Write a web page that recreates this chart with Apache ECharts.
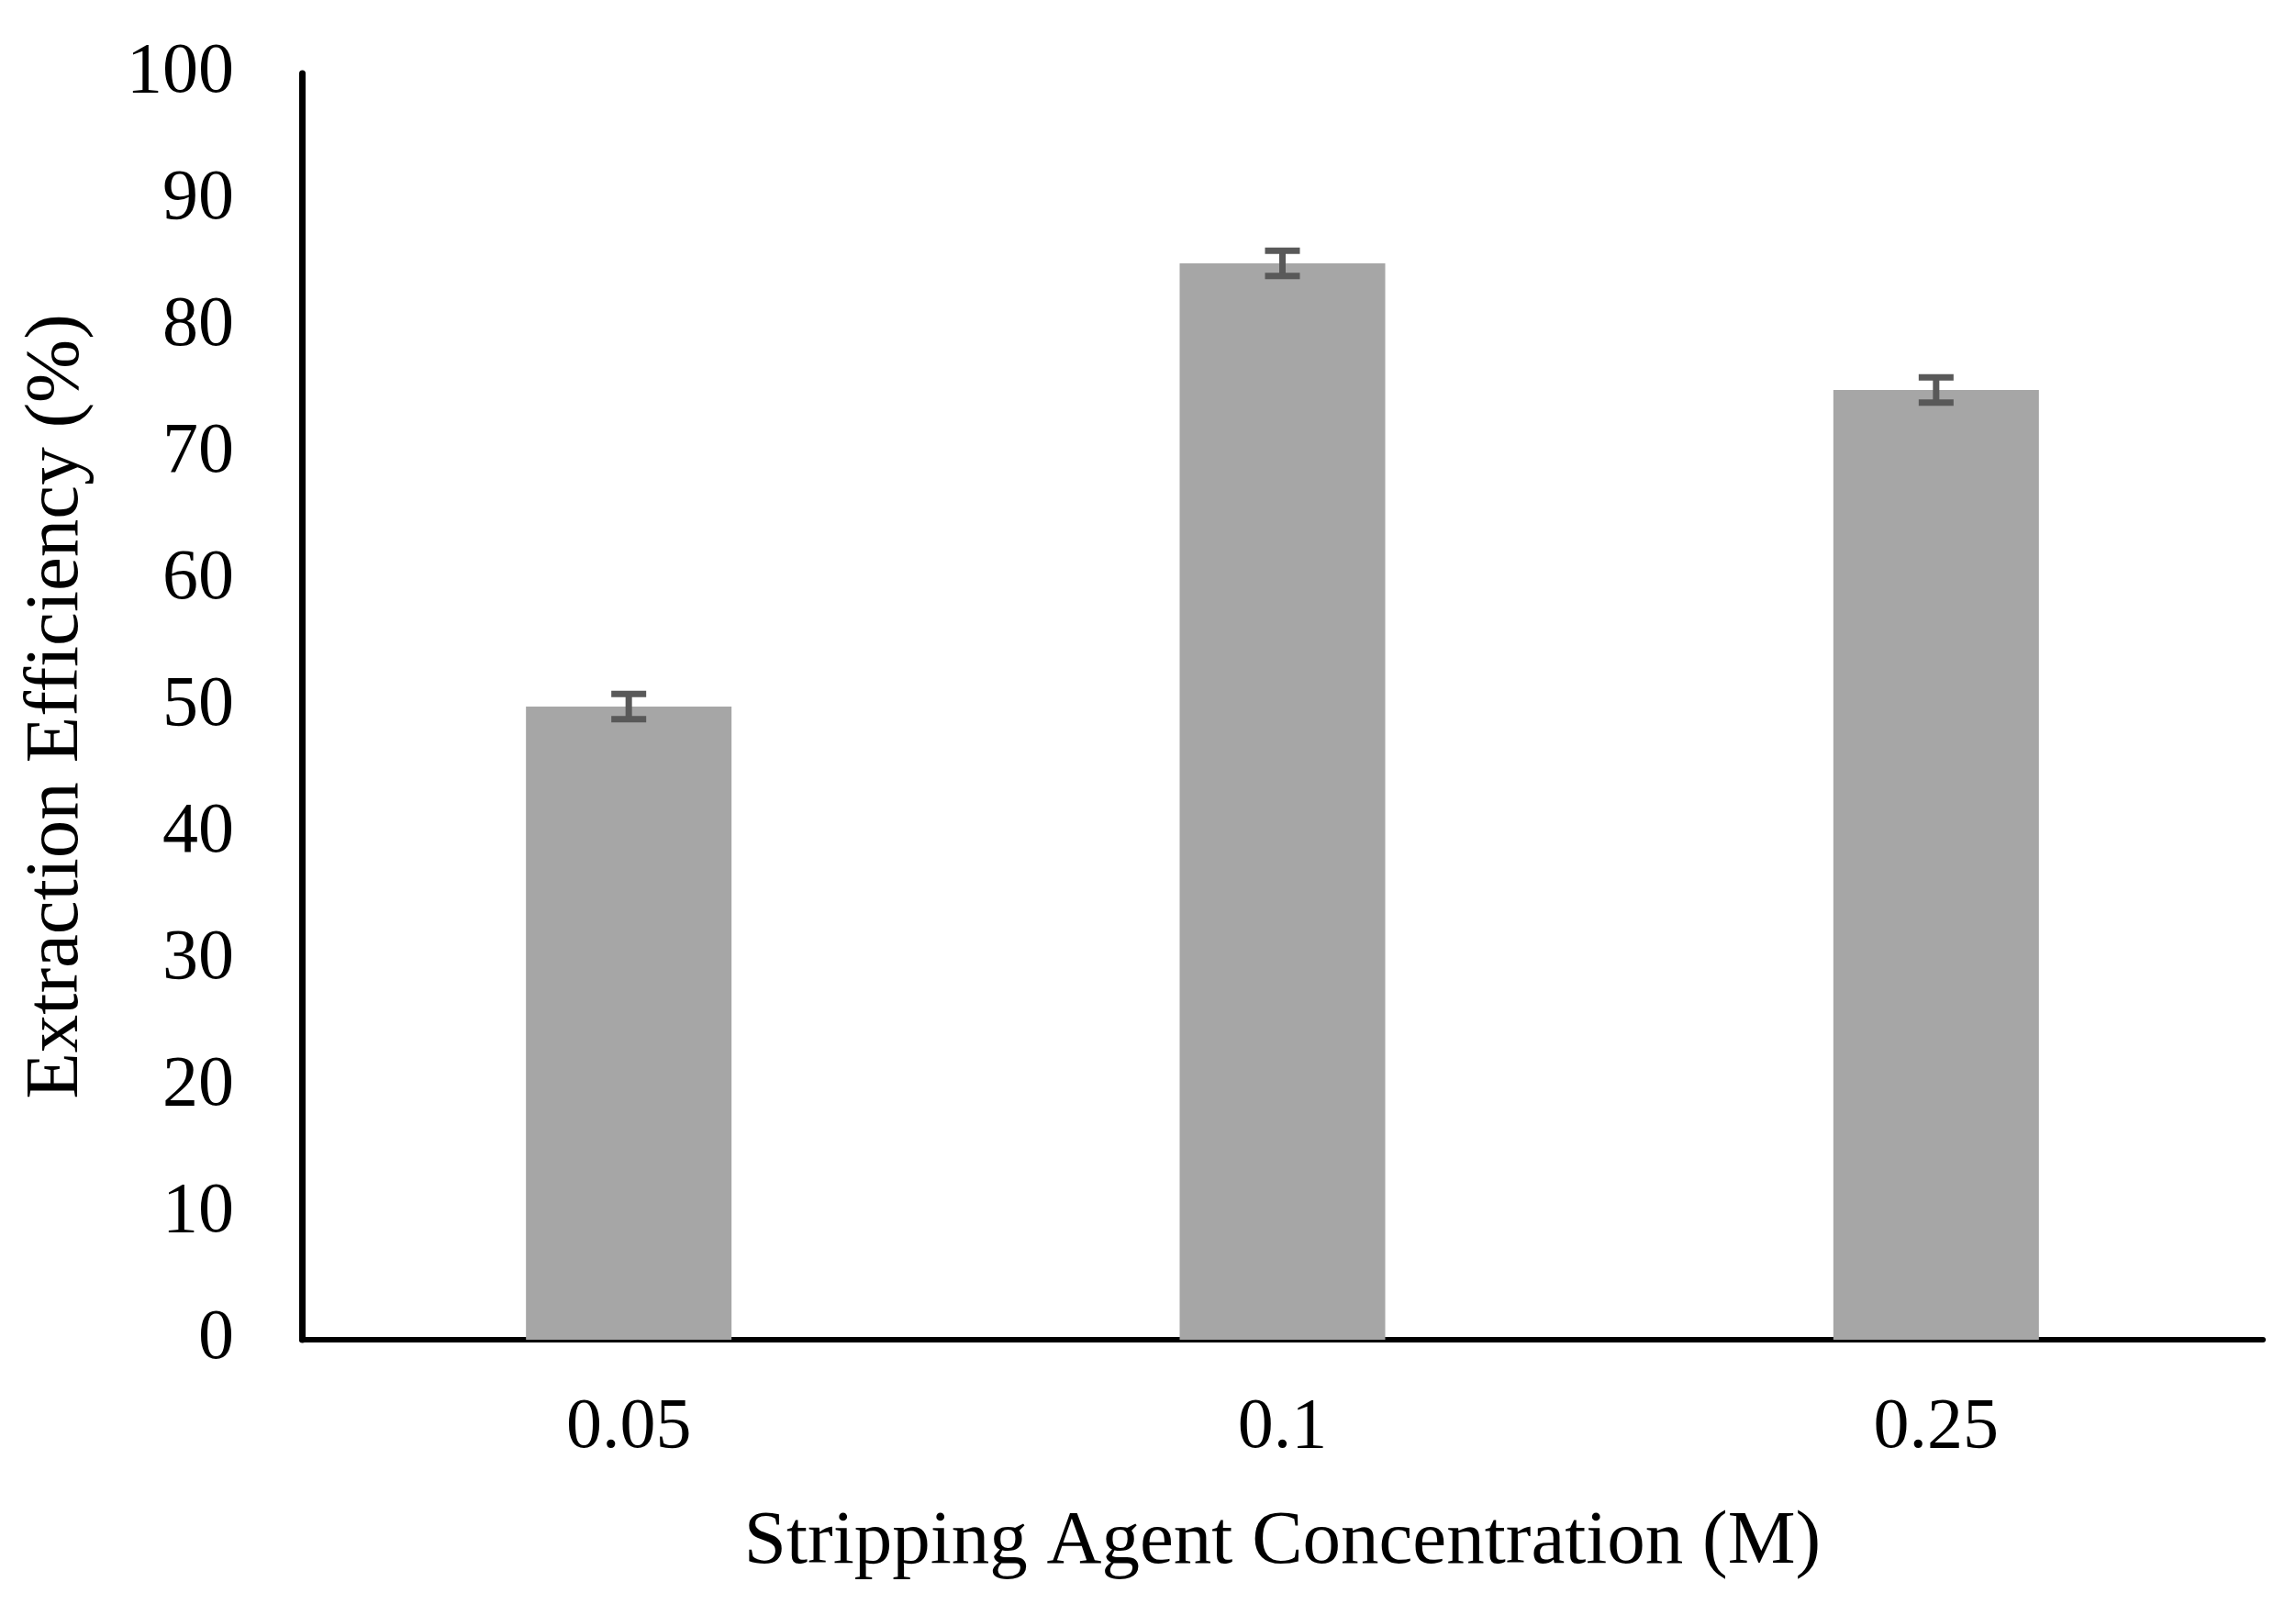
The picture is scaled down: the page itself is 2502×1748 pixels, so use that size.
<!DOCTYPE html>
<html>
<head>
<meta charset="utf-8">
<script src="https://cdn.jsdelivr.net/npm/echarts@6/dist/echarts.min.js"></script>
<style>
html,body{margin:0;padding:0;background:#fff;}
#chart{width:2502px;height:1748px;}
</style>
</head>
<body>
<div id="chart"></div>
<script>
const categories = ['0.05', '0.1', '0.25'];
const efficiency = [50, 85, 75];
const errors = [1, 1, 1];
const yTicks = { min: 0, max: 100, interval: 10 };
const xTitle = 'Stripping Agent Concentration (M)';
const yTitle = 'Extraction Efficiency (%)';

const FONT = '"Liberation Serif", "Times New Roman", serif';
const errData = efficiency.map((v, i) => [i, v - errors[i], v + errors[i]]);

const chart = echarts.init(document.getElementById('chart'), null, { renderer: 'canvas' });
chart.setOption({
  animation: false,
  backgroundColor: '#ffffff',
  grid: { left: 329, right: 36, top: 80, bottom: 288, containLabel: false },
  xAxis: {
    type: 'category',
    data: categories,
    name: xTitle,
    nameLocation: 'middle',
    nameGap: 180,
    nameTextStyle: { fontFamily: FONT, fontSize: 83, color: '#000' },
    axisLine: { show: true, lineStyle: { color: '#000', width: 6 } },
    axisTick: { show: false },
    axisLabel: { fontFamily: FONT, fontSize: 78, color: '#000', margin: 58 },
    splitLine: { show: false }
  },
  yAxis: {
    type: 'value',
    min: yTicks.min,
    max: yTicks.max,
    interval: yTicks.interval,
    name: yTitle,
    nameLocation: 'middle',
    nameGap: 225,
    nameRotate: 90,
    nameTextStyle: { fontFamily: FONT, fontSize: 83, color: '#000' },
    axisLine: { show: true, lineStyle: { color: '#000', width: 7 } },
    axisTick: { show: false },
    axisLabel: { fontFamily: FONT, fontSize: 78, color: '#000', margin: 74 },
    splitLine: { show: false }
  },
  series: [
    {
      type: 'bar',
      data: efficiency,
      barWidth: 224,
      itemStyle: { color: '#A6A6A6' },
      z: 2
    },
    {
      type: 'custom',
      data: errData,
      z: 5,
      renderItem: function (params, api) {
        const x = api.value(0);
        const lo = api.coord([x, api.value(1)]);
        const hi = api.coord([x, api.value(2)]);
        const half = 19;
        const style = { stroke: '#595959', lineWidth: 7, fill: null };
        return {
          type: 'group',
          children: [
            { type: 'line', shape: { x1: hi[0], y1: hi[1], x2: lo[0], y2: lo[1] }, style: style },
            { type: 'line', shape: { x1: hi[0] - half, y1: hi[1], x2: hi[0] + half, y2: hi[1] }, style: style },
            { type: 'line', shape: { x1: lo[0] - half, y1: lo[1], x2: lo[0] + half, y2: lo[1] }, style: style }
          ]
        };
      }
    }
  ]
});
</script>
</body>
</html>
